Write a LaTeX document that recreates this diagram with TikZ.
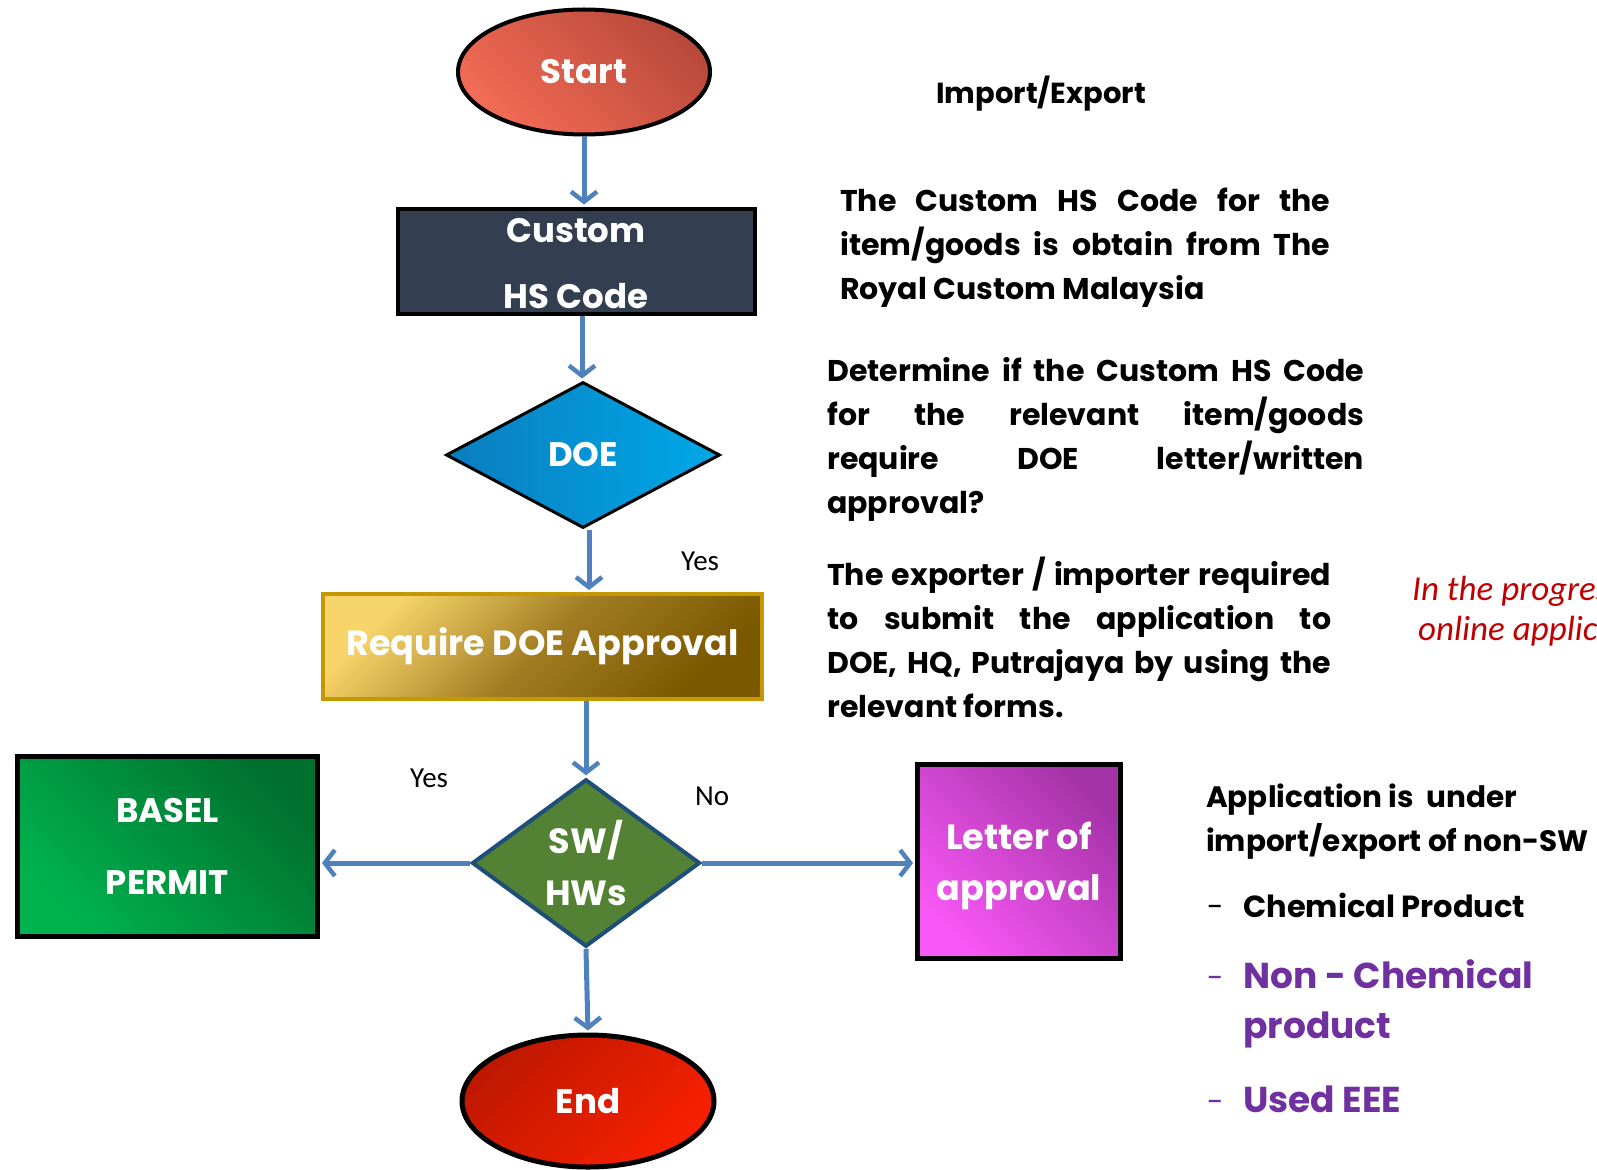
\documentclass[tikz,border=0pt]{standalone}
\usepackage{fontspec}
\usepackage{tikz}
\usetikzlibrary{calc,shapes.geometric,arrows.meta}
\newfontfamily\gothic{Poppins}
\newfontfamily\calib{Carlito}
\definecolor{arrowblue}{HTML}{4F81BD}
\definecolor{startlight}{HTML}{F26B55}
\definecolor{startdark}{HTML}{B9493A}
\definecolor{slate}{HTML}{333F50}
\definecolor{doedark}{HTML}{0A7DBE}
\definecolor{doelight}{HTML}{00A8E8}
\definecolor{goldlight}{HTML}{F8D56A}
\definecolor{goldmid}{HTML}{A27C22}
\definecolor{golddark}{HTML}{7A5800}
\definecolor{goldline}{HTML}{C49800}
\definecolor{swgreen}{HTML}{548235}
\definecolor{swblue}{HTML}{1F4E79}
\definecolor{greenlight}{HTML}{00B34F}
\definecolor{greendark}{HTML}{00702E}
\definecolor{pinklight}{HTML}{F858F5}
\definecolor{pinkdark}{HTML}{A533A8}
\definecolor{enddark}{HTML}{BE1800}
\definecolor{endlight}{HTML}{F82000}
\definecolor{plum}{HTML}{7030A0}
\definecolor{darkred}{HTML}{C00000}
\tikzset{
	flow/.style={line width=5pt, color=arrowblue, shorten >=2pt, -{Straight Barb[length=10pt,width=26pt,line width=4.5pt]}},
	whitetext/.style={text=white, font=\gothic\bfseries\fontsize{34}{40}\selectfont, align=center, inner sep=0pt},
	side/.style={font=\gothic\bfseries\fontsize{30}{44}\selectfont, align=left, anchor=base west, inner sep=0pt},
	yesno/.style={font=\calib\fontsize{29}{34}\selectfont, anchor=base west, inner sep=0pt},
	redtext/.style={font=\calib\itshape\fontsize{35}{40}\selectfont, text=darkred, anchor=base west, inner sep=0pt},
}
\newcommand{\jl}[2]{\makebox[#1][s]{#2}}

\begin{document}
\begin{tikzpicture}[x=1pt,y=-1pt]
			%%%%% START %%%%%
			
			\useasboundingbox (0,0) rectangle (1597,1169);
			\clip (0,0) rectangle (1597,1169);
			
			\node[ellipse, draw=black, line width=4pt, minimum width=252pt, minimum height=125pt, top color=startdark, bottom color=startlight, shading angle=-45, whitetext] (start) at (584,72) {Start};
			
			\node[rectangle, draw=black, line width=4pt, fill=slate, minimum width=357pt, minimum height=105pt, whitetext, font=\gothic\bfseries\fontsize{34}{66}\selectfont] (hscode) at (576,261) {\rule{0pt}{30pt}Custom\\HS Code};
			
			\node[diamond, draw=black, line width=3pt, left color=doedark, right color=doelight, minimum width=274pt, minimum height=146pt, whitetext] (doe) at (583,455) {DOE};
			
			\node[rectangle, draw=goldline, line width=4pt, top color=goldlight, bottom color=golddark, middle color=goldmid, shading angle=45, minimum width=439pt, minimum height=105pt, whitetext, font=\gothic\bfseries\fontsize{35}{40}\selectfont] (approval) at (542.5,646.5) {Require DOE Approval};
			
			\node[diamond, draw=swblue, line width=4pt, fill=swgreen, minimum width=228pt, minimum height=157pt, whitetext, font=\gothic\bfseries\fontsize{35}{52}\selectfont] (swhw) at (586,863) {SW/\\HWs};
			
			\node[rectangle, draw=black, line width=5pt, top color=greendark, bottom color=greenlight, shading angle=-45, minimum width=300pt, minimum height=180pt, whitetext, font=\gothic\bfseries\fontsize{34}{72}\selectfont] (basel) at (167.5,846.5) {BASEL\\PERMIT};
			
			\node[rectangle, draw=black, line width=5pt, top color=pinkdark, bottom color=pinklight, shading angle=-45, minimum width=203pt, minimum height=194pt, whitetext, font=\gothic\bfseries\fontsize{35}{51}\selectfont] (letter) at (1019,861.5) {\rule{0pt}{36pt}Letter of\\approval};
			
			\node[ellipse, draw=black, line width=5pt, minimum width=252pt, minimum height=132pt, top color=enddark, bottom color=endlight, shading angle=45, whitetext] (finish) at (588,1101) {End};
			
			\draw[flow] (start.south) -- (start.south |- hscode.north);
			\draw[flow] ([xshift=6pt]hscode.south) -- ([xshift=6pt]hscode.south |- doe.north);
			\draw[flow] ([xshift=6pt]doe.south) -- ([xshift=6pt]doe.south |- approval.north);
			\draw[flow] (approval.south -| swhw.north) -- (swhw.north);
			\draw[flow] (swhw.west) -- (swhw.west -| basel.east);
			\draw[flow] (swhw.east) -- (swhw.east -| letter.west);
			\draw[flow] (swhw.south) -- (finish.north);
			
			\node[yesno] (yesdoe) at (681,570) {Yes};
			\node[yesno] (yesbasel) at (410,787) {Yes};
			\node[yesno] (noletter) at (695,805) {No};
			
			\node[side, font=\gothic\bfseries\fontsize{29}{44}\selectfont] (impexp) at (936,104) {Import/Export};
			
			\node[side] (hstext) at (840,299) {\jl{490pt}{The Custom HS Code for the}\\\jl{490pt}{item/goods is obtain from The}\\Royal Custom Malaysia};
			
			\node[side] (doetext) at (827,513) {\jl{537pt}{Determine if the Custom HS Code}\\\jl{537pt}{for the relevant item/goods}\\\jl{537pt}{require DOE letter/written}\\approval?};
			
			\node[side] (submittext) at (827,717) {\jl{504pt}{The exporter / importer required}\\\jl{504pt}{to submit the application to}\\\jl{504pt}{DOE, HQ, Putrajaya by using the}\\relevant forms.};
			
			\node[redtext] (progress) at (1412,600) {In the progress of};
			\node[redtext] (online) at (1418,640) {online application};
			
			\node[side, font=\gothic\bfseries\fontsize{29.5}{44}\selectfont] (nonsw) at (1206,851) {Application is \ under\\import/export of non-SW};
			
			\node[side, font=\gothic\fontsize{30}{44}\selectfont] (dasha) at (1207,917) {-};
			\node[side, font=\gothic\bfseries\fontsize{30.5}{44}\selectfont] (chem) at (1243,917) {Chemical Product};
			\node[side, font=\gothic\fontsize{30}{44}\selectfont, text=plum] (dashb) at (1207,988) {-};
			\node[side, font=\gothic\bfseries\fontsize{36}{50}\selectfont, text=plum] (nonchem) at (1243,1038) {Non - Chemical\\product};
			\node[side, font=\gothic\fontsize{30}{44}\selectfont, text=plum] (dashc) at (1207,1112) {-};
			\node[side, font=\gothic\bfseries\fontsize{36}{50}\selectfont, text=plum] (used) at (1243,1112) {Used EEE};
			
			%%%%% END %%%%%
\end{tikzpicture}
\end{document}
